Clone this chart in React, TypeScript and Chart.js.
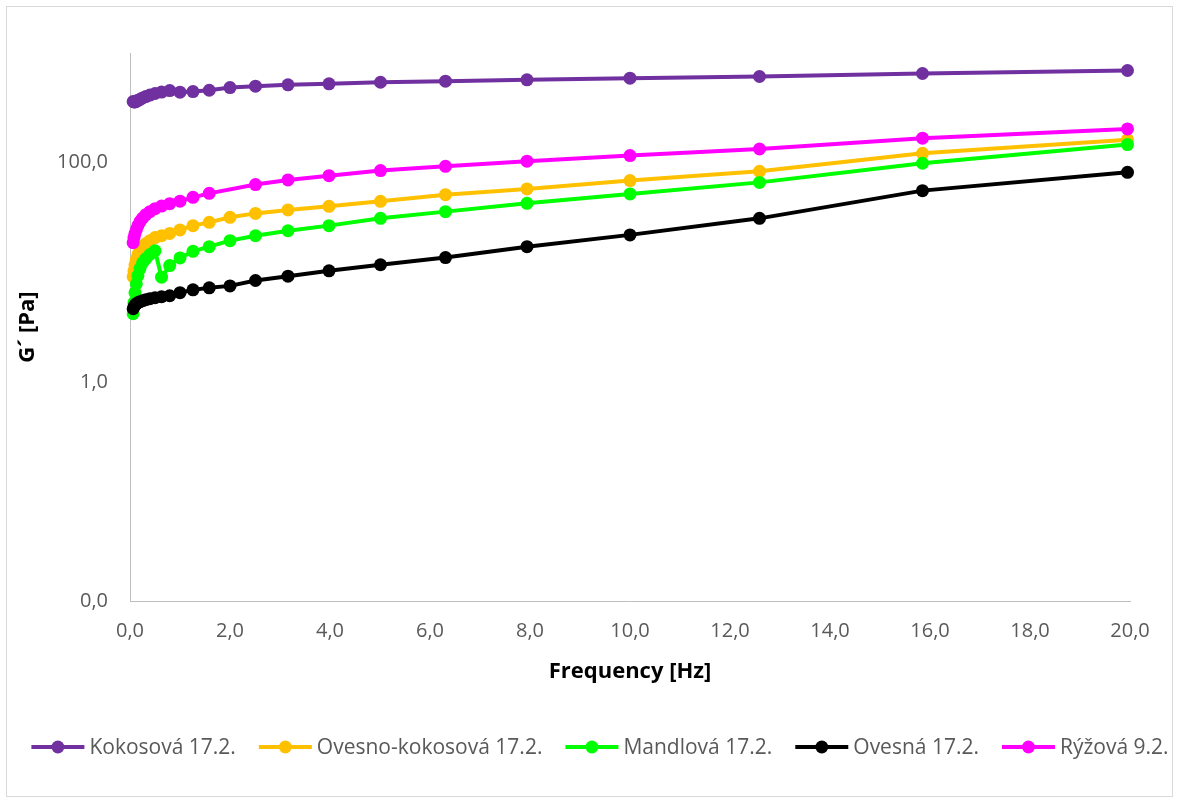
import { useEffect, useRef } from 'react';
import { Chart, registerables } from 'chart.js';

Chart.register(...registerables);

// Oscillation frequency sweep [Hz]
const frequency = [
  0.0631, 0.0794, 0.1, 0.126, 0.158, 0.2, 0.251, 0.316, 0.398, 0.501, 0.631, 0.794,
  1.0, 1.26, 1.585, 2.0, 2.51, 3.16, 3.98, 5.01, 6.31, 7.94, 10.0, 12.59, 15.85, 19.95,
];

// Storage modulus G´ [Pa] for each sample
const kokosova = [
  361, 357, 357, 361, 370, 377, 389, 400, 413, 427, 440, 454,
  439, 445, 457, 484, 498, 512, 523, 541, 553, 569, 589, 610, 650, 692,
];
const ovesnoKokosova = [
  9.1, 10.3, 11.7, 13.0, 14.5, 15.7, 17.1, 18.2, 19.4, 20.7, 21.5, 22.6,
  24.3, 26.6, 28.5, 31.7, 34.4, 37.0, 39.9, 44.3, 51.0, 57.5, 68.5, 83.3, 121.6, 162,
];
const mandlova = [
  4.18, 5.27, 6.5, 7.85, 9.3, 10.8, 12.2, 13.3, 14.5, 15.7, 9.0, 11.5,
  13.5, 15.5, 17.1, 19.4, 21.5, 23.9, 26.6, 31.0, 35.7, 42.5, 51.8, 66.0, 98.6, 146,
];
const ovesna = [
  4.64, 4.84, 5.0, 5.16, 5.27, 5.38, 5.49, 5.61, 5.73, 5.85, 5.97, 6.1,
  6.5, 6.9, 7.2, 7.5, 8.4, 9.2, 10.3, 11.7, 13.6, 17.1, 21.9, 31.0, 55.5, 81.5,
];
const ryzova = [
  18.6, 20.7, 22.5, 24.4, 26.6, 28.9, 31.1, 33.5, 35.7, 38.0, 40.1, 42.2,
  44.5, 48.2, 52.4, null, 63.0, 69.5, 76.0, 84.5, 92.5, 103, 116, 133, 167, 203,
];

const seriesNames = [
  'Kokosová 17.2.',
  'Ovesno-kokosová 17.2.',
  'Mandlová 17.2.',
  'Ovesná 17.2.',
  'Rýžová 9.2.',
];
const seriesValues = [kokosova, ovesnoKokosova, mandlova, ovesna, ryzova];
const seriesColors = ['#7030A0', '#FFC000', '#00FF00', '#000000', '#FF00FF'];

const yTickValues = [0.01, 1, 100];
const xTitle = 'Frequency [Hz]';
const yTitle = 'G´ [Pa]';

const FONT = '"Open Sans", "Noto Sans", sans-serif';
const fmt = (v: number) => v.toFixed(1).replace('.', ',');

const frame = {
  id: 'frame',
  beforeDraw(chart: any) {
    const { ctx, width, height } = chart;
    ctx.save();
    ctx.fillStyle = '#ffffff';
    ctx.fillRect(0, 0, width, height);
    ctx.strokeStyle = '#d9d9d9';
    ctx.lineWidth = 1;
    ctx.strokeRect(6.5, 6.5, width - 13, height - 13);
    ctx.restore();
  },
};

const bottomLegend = {
  id: 'bottomLegend',
  afterDraw(chart: any) {
    const { ctx } = chart;
    const lineLen = 53;
    const textGap = 5;
    const itemGap = 23;
    const y = 747;
    ctx.save();
    ctx.font = `21px ${FONT}`;
    const widths = chart.data.datasets.map((d: any) => ctx.measureText(d.label).width);
    const total =
      widths.reduce((a: number, w: number) => a + lineLen + textGap + w, 0) +
      itemGap * (widths.length - 1);
    let x = 600 - total / 2;
    chart.data.datasets.forEach((d: any, i: number) => {
      ctx.strokeStyle = d.borderColor;
      ctx.lineWidth = 4;
      ctx.beginPath();
      ctx.moveTo(x, y);
      ctx.lineTo(x + lineLen, y);
      ctx.stroke();
      ctx.fillStyle = d.backgroundColor;
      ctx.beginPath();
      ctx.arc(x + lineLen / 2, y, 6.5, 0, Math.PI * 2);
      ctx.fill();
      ctx.fillStyle = '#595959';
      ctx.textBaseline = 'middle';
      ctx.textAlign = 'left';
      ctx.fillText(d.label, x + lineLen + textGap, y + 1);
      x += lineLen + textGap + widths[i] + itemGap;
    });
    ctx.restore();
  },
};

export default function App() {
  const canvasRef = useRef<HTMLCanvasElement | null>(null);

  useEffect(() => {
    if (!canvasRef.current) return;
    const datasets = seriesNames.map((name, i) => ({
      label: name,
      data: frequency.map((f, j) => ({ x: f, y: seriesValues[i][j] })),
      borderColor: seriesColors[i],
      backgroundColor: seriesColors[i],
      pointBackgroundColor: seriesColors[i],
      pointBorderColor: seriesColors[i],
      pointRadius: 6.5,
      pointBorderWidth: 0,
      borderWidth: 4,
      showLine: true,
      spanGaps: true,
      tension: 0,
      order: seriesNames.length - 1 - i,
      clip: 12,
    }));

    const chart = new Chart(canvasRef.current, {
      type: 'scatter',
      data: { datasets },
      plugins: [frame, bottomLegend],
      options: {
        animation: false,
        responsive: false,
        devicePixelRatio: 1,
        layout: { padding: { left: 15, top: 53, right: 49, bottom: 118 } },
        plugins: {
          legend: { display: false },
          tooltip: { enabled: false },
        },
        scales: {
          x: {
            type: 'linear',
            min: 0,
            max: 20,
            grid: { display: false, drawTicks: false },
            border: { display: true, color: '#bfbfbf', width: 1 },
            ticks: {
              stepSize: 2,
              padding: 18,
              color: '#595959',
              font: { family: FONT, size: 20 },
              callback: (v: any) => fmt(Number(v)),
            },
            title: {
              display: true,
              text: xTitle,
              color: '#000000',
              padding: 0,
              font: { family: FONT, size: 22, weight: 'bold' },
            },
            afterFit: (s: any) => {
              s.height = 84;
            },
          },
          y: {
            type: 'logarithmic',
            min: 0.01,
            max: 1000,
            grid: { display: false, drawTicks: false },
            border: { display: true, color: '#bfbfbf', width: 1 },
            afterBuildTicks: (s: any) => {
              s.ticks = yTickValues.map((v) => ({ value: v }));
            },
            ticks: {
              padding: 22,
              color: '#595959',
              font: { family: FONT, size: 20 },
              callback: (v: any) => fmt(Number(v)),
            },
            title: {
              display: true,
              text: yTitle,
              color: '#000000',
              padding: 0,
              font: { family: FONT, size: 22, weight: 'bold' },
            },
            afterFit: (s: any) => {
              s.width = 115;
            },
          },
        },
      },
    } as any);

    return () => chart.destroy();
  }, []);

  return (
    <div style={{ position: 'absolute', left: 0, top: 0, width: 1179, height: 803, background: '#fff' }}>
      <canvas ref={canvasRef} width={1179} height={803} style={{ display: 'block' }} />
    </div>
  );
}
